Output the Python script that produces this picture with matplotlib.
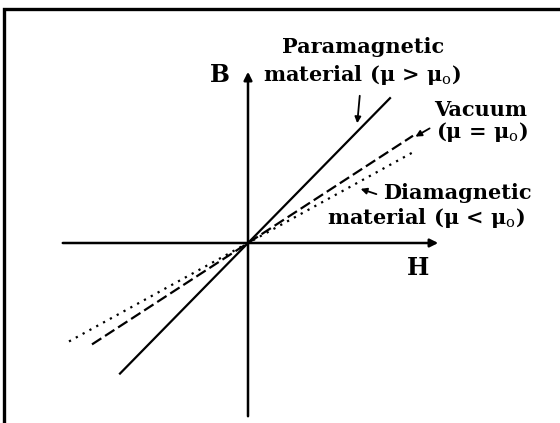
import matplotlib.pyplot as plt
import numpy as np

plt.rcParams['mathtext.fontset'] = 'dejavuserif'

# B-H curves through the origin (slope = permeability in picture units)
names = ['para', 'vacuum', 'dia']
slopes = [1.02, 0.65, 0.55]
x_start = [-128, -156, -179]
x_end = [142, 165, 164]
styles = ['-', (0, (5, 2)), (0, (1, 2.5))]

fig = plt.figure(figsize=(5.6, 4.23), dpi=100)
ax = fig.add_axes([0, 0, 1, 1])
ax.set_xlim(-248, 312)
ax.set_ylim(-180, 243)
ax.axis('off')

# frame (left and top only)
ax.plot([-244, -244, 312], [-180, 234, 234], color='black', lw=2.4, solid_joinstyle='miter')

# axes with arrows
ax.annotate('', xy=(193, 0), xytext=(-188, 0),
            arrowprops=dict(arrowstyle='-|>', lw=1.8, color='black', mutation_scale=12))
ax.annotate('', xy=(0, 174), xytext=(0, -176),
            arrowprops=dict(arrowstyle='-|>', lw=1.8, color='black', mutation_scale=12))

for s, a, b, ls in zip(slopes, x_start, x_end, styles):
    xs = np.array([a, b])
    ax.plot(xs, s * xs, color='black', lw=1.6, linestyle=ls)

tf = dict(family='DejaVu Serif', fontweight='bold', fontsize=15, color='black')
ax.text(-28, 168, 'B', ha='center', va='center', family='DejaVu Serif',
        fontweight='bold', fontsize=17)
ax.text(170, -25, 'H', ha='center', va='center', family='DejaVu Serif',
        fontweight='bold', fontsize=17)

ax.text(115, 196, 'Paramagnetic', ha='center', va='center', **tf)
ax.text(114, 168, r'material (μ > μ$_{\rm o}$)', ha='center', va='center', **tf)
ax.text(233, 133, 'Vacuum', ha='center', va='center', **tf)
ax.text(234, 111, r'(μ = μ$_{\rm o}$)', ha='center', va='center', **tf)
ax.text(209, 50, 'Diamagnetic', ha='center', va='center', **tf)
ax.text(178, 25, r'material (μ < μ$_{\rm o}$)', ha='center', va='center', **tf)

# pointer arrows
ap = dict(arrowstyle='-|>', lw=1.3, color='black', mutation_scale=9)
ax.annotate('', xy=(109, 117), xytext=(112, 150), arrowprops=ap)
ax.annotate('', xy=(165, 105), xytext=(184, 116), arrowprops=ap)
ax.annotate('', xy=(110, 55), xytext=(131, 48), arrowprops=ap)

fig.savefig('out.png', dpi=100, facecolor='white')
